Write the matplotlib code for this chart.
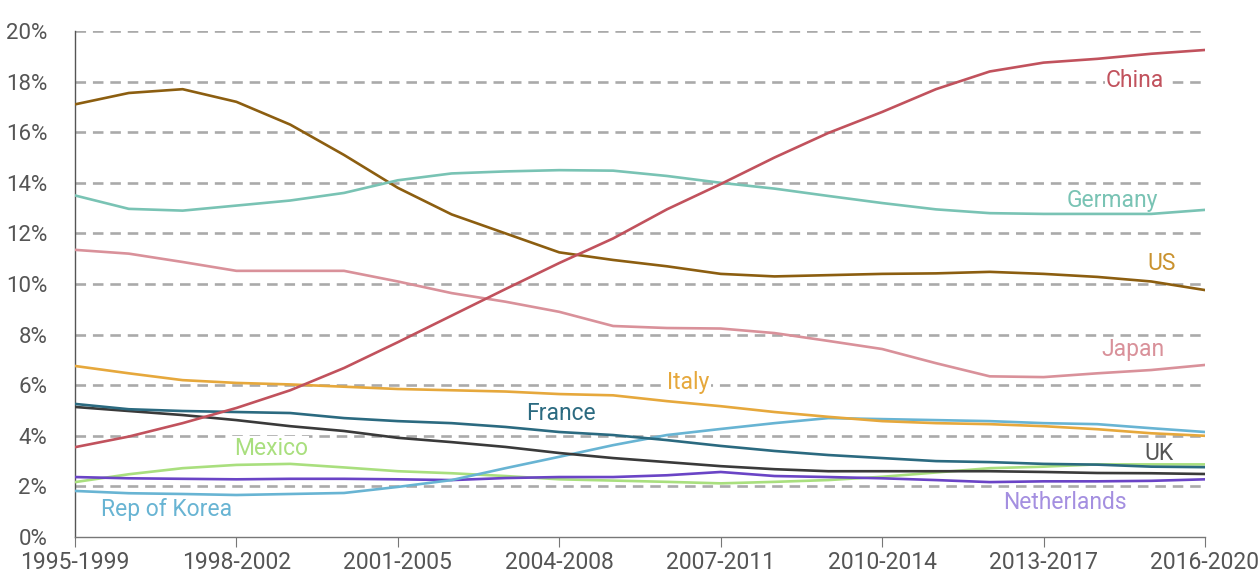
import matplotlib
matplotlib.use("Agg")
import matplotlib.pyplot as plt

plt.rcParams['font.family'] = ['Roboto', 'DejaVu Sans']

# periods 1995-1999 ... 2016-2020
periods = [f"{y}-{y + 4}" for y in range(1995, 2017)]

china = [3.55, 3.97, 4.5, 5.1, 5.8, 6.68, 7.7, 8.75, 9.8, 10.83, 11.8, 12.95,
         13.95, 15.0, 15.97, 16.8, 17.7, 18.4, 18.75, 18.9, 19.1, 19.25]
germany = [13.5, 12.97, 12.9, 13.1, 13.3, 13.6, 14.1, 14.37, 14.45, 14.5, 14.48, 14.27,
           14.0, 13.77, 13.48, 13.2, 12.95, 12.8, 12.77, 12.77, 12.77, 12.93]
us = [17.1, 17.55, 17.7, 17.2, 16.3, 15.1, 13.8, 12.75, 12.0, 11.25, 10.95, 10.7,
      10.4, 10.3, 10.35, 10.4, 10.42, 10.48, 10.4, 10.28, 10.1, 9.76]
japan = [11.35, 11.2, 10.87, 10.52, 10.52, 10.52, 10.1, 9.64, 9.3, 8.9, 8.34, 8.26,
         8.24, 8.06, 7.75, 7.43, 6.87, 6.35, 6.32, 6.47, 6.6, 6.8]
italy = [6.76, 6.47, 6.2, 6.09, 6.03, 5.94, 5.85, 5.8, 5.75, 5.65, 5.6, 5.37,
         5.17, 4.94, 4.75, 4.58, 4.5, 4.46, 4.38, 4.26, 4.1, 4.0]
korea = [1.82, 1.73, 1.7, 1.66, 1.7, 1.74, 1.98, 2.25, 2.72, 3.17, 3.63, 4.03,
         4.27, 4.5, 4.7, 4.66, 4.62, 4.58, 4.5, 4.46, 4.3, 4.15]
france = [5.26, 5.05, 4.98, 4.94, 4.9, 4.7, 4.58, 4.5, 4.35, 4.15, 4.03, 3.83,
          3.6, 3.4, 3.24, 3.12, 3.0, 2.96, 2.89, 2.86, 2.78, 2.76]
uk = [5.14, 4.98, 4.82, 4.62, 4.38, 4.19, 3.92, 3.75, 3.56, 3.32, 3.12, 2.96,
      2.8, 2.68, 2.6, 2.6, 2.6, 2.6, 2.57, 2.53, 2.52, 2.49]
mexico = [2.17, 2.48, 2.72, 2.85, 2.89, 2.75, 2.6, 2.52, 2.41, 2.28, 2.23, 2.18,
          2.12, 2.18, 2.25, 2.38, 2.55, 2.72, 2.78, 2.87, 2.87, 2.87]
netherlands = [2.37, 2.32, 2.3, 2.28, 2.3, 2.3, 2.28, 2.25, 2.33, 2.37, 2.37, 2.44,
               2.57, 2.41, 2.37, 2.32, 2.25, 2.17, 2.2, 2.2, 2.22, 2.28]

# name, values, line colour, label colour, label position (x index, y %)
series = [
    ("Mexico", mexico, "#a9df7e", "#a9df7e", (3.64, 3.48)),
    ("Netherlands", netherlands, "#6a44c6", "#a48fe0", (18.4, 1.35)),
    ("Rep of Korea", korea, "#68b4d3", "#68b4d3", (1.7, 1.1)),
    ("UK", uk, "#3a3a3a", "#555555", (20.15, 3.3)),
    ("France", france, "#2b6a80", "#2b6a80", (9.03, 4.9)),
    ("Italy", italy, "#e6a83c", "#e6a83c", (11.4, 6.1)),
    ("Japan", japan, "#d9919a", "#d9919a", (19.67, 7.4)),
    ("US", us, "#8c5e10", "#c9922f", (20.2, 10.8)),
    ("Germany", germany, "#79c3b4", "#79c3b4", (19.27, 13.3)),
    ("China", china, "#c1525d", "#c1525d", (19.7, 18.05)),
]

fig = plt.figure(figsize=(12.6, 5.73), dpi=100)
ax = fig.add_axes([75 / 1260, 1 - 537 / 573, 1130 / 1260, 506 / 573])

x = list(range(len(periods)))
for name, vals, col, lcol, (lx, ly) in series:
    ax.plot(x, vals, color=col, linewidth=1.9, zorder=3)
    # label box hides the grid but stays under the lines
    ax.text(lx, ly, name, color=lcol, fontsize=16.5,
            ha="center", va="center", zorder=2,
            bbox=dict(facecolor="white", edgecolor="none", pad=1))

# dashed grid
for g in range(2, 21, 2):
    ax.axhline(g, color="#aaaaaa", linewidth=1.9, dashes=(4, 2.6), zorder=1)

ax.set_xlim(0, len(periods) - 1)
ax.set_ylim(0, 20)
ax.set_yticks(range(0, 21, 2))
ax.set_yticklabels([f"{v}%" for v in range(0, 21, 2)])
ax.set_xticks(x[::3])
ax.set_xticklabels(periods[::3])

for s in ["top", "right"]:
    ax.spines[s].set_visible(False)
ax.spines["left"].set_color("#555555")
ax.spines["bottom"].set_color("#777777")
ax.spines["left"].set_linewidth(1.0)
ax.spines["bottom"].set_linewidth(1.0)
ax.tick_params(axis="y", length=0, labelsize=16, labelcolor="#555555", pad=20)
ax.tick_params(axis="x", length=7, color="#777777", labelsize=16.5, labelcolor="#555555", pad=3)

fig.savefig("out.png", dpi=100)
